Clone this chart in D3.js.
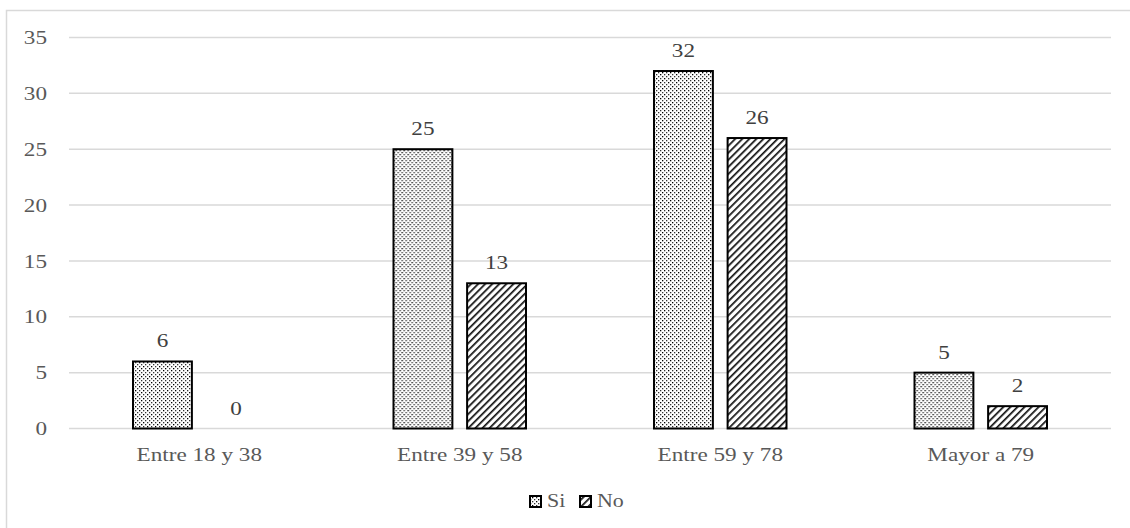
<!DOCTYPE html>
<html>
<head>
<meta charset="utf-8">
<script src="https://cdn.jsdelivr.net/npm/d3@7"></script>
<style>
  html, body { margin: 0; padding: 0; background: #fff; }
  svg { display: block; }
  svg text { font-family: "Liberation Serif", "DejaVu Serif", serif; }
</style>
</head>
<body>
<svg id="chart" width="1130" height="528"></svg>
<script>
// Age groups and answer counts
const categories = ["Entre 18 y 38", "Entre 39 y 58", "Entre 59 y 78", "Mayor a 79"];
const seriesNames = ["Si", "No"];
const siValues = [6, 25, 32, 5];
const noValues = [0, 13, 26, 2];
const yTicks = [0, 5, 10, 15, 20, 25, 30, 35];

const svg = d3.select("#chart");
const W = 1130, H = 528;
const FONT = '"Liberation Serif", "DejaVu Serif", serif';
const WIDE = "scale(1.22,1)";   // the type is set slightly widened

// Outer chart frame (runs off the right and bottom edges)
svg.append("rect")
  .attr("x", 6.5).attr("y", 10.5)
  .attr("width", W + 10).attr("height", H + 10)
  .attr("fill", "#fff").attr("stroke", "#d9d9d9").attr("stroke-width", 1.5);

// Fill patterns
const defs = svg.append("defs");
const dots = defs.append("pattern")
  .attr("id", "pat-si").attr("patternUnits", "userSpaceOnUse")
  .attr("width", 8).attr("height", 8);
dots.append("rect").attr("width", 8).attr("height", 8).attr("fill", "#fff");
[[0,0],[4,0],[2,2],[6,2],[0,4],[4,4],[2,6],[6,6]].forEach(([x, y], i) => {
  dots.append("rect").attr("x", x).attr("y", y)
    .attr("width", 1.3).attr("height", 1.3)
    .attr("fill", i % 3 === 0 ? "#000" : "#333");
});

const hatch = defs.append("pattern")
  .attr("id", "pat-no").attr("patternUnits", "userSpaceOnUse")
  .attr("width", 5).attr("height", 5)
  .attr("patternTransform", "rotate(45)");
hatch.append("rect").attr("width", 5).attr("height", 5).attr("fill", "#fff");
hatch.append("rect").attr("x", 0).attr("y", 0).attr("width", 1.7).attr("height", 5).attr("fill", "#111");

const fills = { Si: "url(#pat-si)", No: "url(#pat-no)" };

// Scales
const x0 = d3.scaleBand().domain(categories).range([69, 1111]).paddingInner(0).paddingOuter(0);
const x1 = d3.scaleBand().domain(seriesNames).range([64, x0.bandwidth() - 64]).paddingInner(0.2);
const y = d3.scaleLinear().domain([0, 35]).range([428.5, 37.5]);

// Gridlines
svg.append("g").selectAll("line").data(yTicks).join("line")
  .attr("x1", 69).attr("x2", 1111)
  .attr("y1", d => y(d)).attr("y2", d => y(d))
  .attr("stroke", "#d9d9d9").attr("stroke-width", 1.5);

// Y axis labels
const yAxis = d3.axisLeft(y).tickValues(yTicks).tickSize(0).tickPadding(0);
const gy = svg.append("g").attr("transform", "translate(47,0)").call(yAxis);
gy.attr("font-family", null).attr("font-size", null);
gy.select(".domain").remove();
gy.selectAll("text")
  .style("font-family", FONT).style("font-size", "19px")
  .attr("fill", "#595959").attr("transform", WIDE);

// X axis labels
const xAxis = d3.axisBottom(x0).tickSize(0).tickPadding(0);
const gx = svg.append("g").attr("transform", "translate(0,447)").call(xAxis);
gx.attr("font-family", null).attr("font-size", null);
gx.select(".domain").remove();
gx.selectAll("text")
  .style("font-family", FONT).style("font-size", "19px")
  .attr("fill", "#595959").attr("transform", WIDE);

// Bars
const rows = categories.map((c, i) => ({ cat: c, vals: [
  { key: "Si", v: siValues[i] }, { key: "No", v: noValues[i] }
]}));

const groups = svg.append("g").selectAll("g").data(rows).join("g")
  .attr("transform", d => `translate(${x0(d.cat)},0)`);

groups.selectAll("rect").data(d => d.vals.filter(e => e.v > 0)).join("rect")
  .attr("x", d => x1(d.key))
  .attr("y", d => y(d.v))
  .attr("width", x1.bandwidth())
  .attr("height", d => y(0) - y(d.v))
  .attr("fill", d => fills[d.key])
  .attr("stroke", "#000").attr("stroke-width", 2);

groups.selectAll("text").data(d => d.vals).join("text")
  .attr("transform", d => `translate(${x1(d.key) + x1.bandwidth() / 2},${y(d.v) - 14}) ${WIDE}`)
  .attr("text-anchor", "middle")
  .style("font-family", FONT).style("font-size", "19px").attr("fill", "#404040")
  .text(d => d.v);

// Legend
const legend = svg.append("g").attr("transform", "translate(530,507)");
const items = [{ key: "Si", x: 0 }, { key: "No", x: 50 }];
items.forEach(it => {
  legend.append("rect")
    .attr("x", it.x).attr("y", -11).attr("width", 11).attr("height", 11)
    .attr("fill", fills[it.key]).attr("stroke", "#000").attr("stroke-width", 2);
  legend.append("text")
    .attr("transform", `translate(${it.x + 17},0) ${WIDE}`)
    .style("font-family", FONT).style("font-size", "18px").attr("fill", "#595959")
    .text(it.key);
});
</script>
</body>
</html>
